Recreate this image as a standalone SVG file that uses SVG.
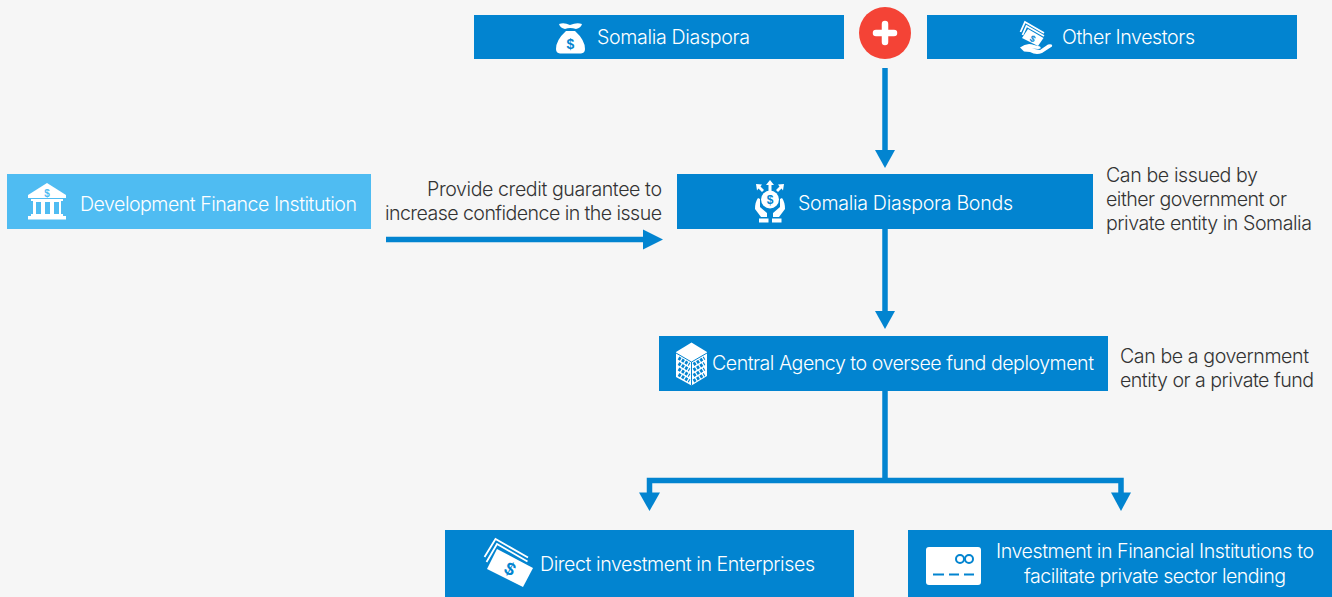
<svg xmlns="http://www.w3.org/2000/svg" width="1332" height="597" viewBox="0 0 1332 597">
<style>
.box{fill:#0284d0}
.lbox{fill:#4fbcf2}
.t{font-family:"Inter","Liberation Sans",sans-serif;font-weight:300;font-size:19.6px}
.w{fill:#fff}
.k{fill:#333}
.c{fill:none;stroke:#0284d0;stroke-width:5.5}
.a{fill:#0284d0}
.i{fill:#fff}
.d{font-family:"Liberation Sans",sans-serif;font-weight:700;fill:#0284d0;text-anchor:middle}
.n{fill:none;stroke:#fff;stroke-width:1.800}
.win{fill:none;stroke:#0284d0;stroke-width:3.200;stroke-dasharray:2.600 1.300}
</style>
<rect width="1332" height="597" fill="#f6f6f6"/>
<g id="connectors">
<path class="c" d="M885 68V152"/><path class="a" d="M875 150H895L885 168Z"/>
<path class="c" d="M386 239.500H648"/><path class="a" d="M643 229.500V249.500L663 239.500Z"/>
<path class="c" d="M885 229V313"/><path class="a" d="M875 311H895L885 329Z"/>
<path class="c" d="M885 391V481"/>
<path class="c" d="M1121 494V480.500H649.500V494"/>
<path class="a" d="M639 492.500H660L649.500 511Z"/><path class="a" d="M1111 492.500H1131L1121 511Z"/>
</g>
<g id="somalia-diaspora">
<rect class="box" x="474" y="15" width="370" height="44"/>
<path class="i" d="M559 24Q564 22 570 25Q577 22 582 24Q581 28 576 29Q570 27 565 29Q560 28 559 24ZM566 31H575Q585 40 585 49Q585 53 581 53.500H560Q556 53 556 49Q556 40 566 31Z"/>
<text class="d" x="570.500" y="49" font-size="14">$</text>
<text class="t w" x="597" y="43.500" textLength="153">Somalia Diaspora</text>
</g>
<g id="plus">
<circle cx="885" cy="33" r="26" fill="#f44336"/>
<path d="M876 33H894M885 24V42" stroke="#fff" stroke-width="6.500" stroke-linecap="round" fill="none"/>
</g>
<g id="other-investors">
<rect class="box" x="927" y="15" width="370" height="44"/>
<path class="n" d="M1020.500 32L1025 22L1044 33"/>
<path class="n" d="M1022.500 35L1026.500 26L1044 36"/>
<path class="i" d="M1028 29L1043.500 38L1038 46L1022 38Z"/>
<text class="d" x="1033" y="42" font-size="9" transform="rotate(28 1033 38)">$</text>
<path class="i" d="M1020 47.500Q1027 42 1034 45L1040 46.500Q1042 49 1038 49L1032 48.500L1040 50L1048 44.500Q1053 43.500 1052 46.500L1042 53Q1036 55.500 1030 52L1024 51.500Z"/>
<text class="t w" x="1062" y="43.500" textLength="133">Other Investors</text>
</g>
<g id="dfi">
<rect class="lbox" x="7" y="174" width="364" height="55"/>
<path class="i" d="M47 183L66 195V198H28V195Z"/>
<path class="i" d="M31 199H63V201H61V214H63V216H66V219.500H28V216H31V214H33V201H31ZM36 202V214H41V202ZM45 202V214H50V202ZM54 202V214H59V202Z" fill-rule="evenodd"/>
<text class="d" x="47" y="197" font-size="10" style="fill:#4fbcf2">$</text>
<text class="t w" x="80" y="210.500" textLength="277">Development Finance Institution</text>
</g>
<g id="guarantee-label">
<text class="t k" x="427" y="195.500" textLength="235">Provide credit guarantee to</text>
<text class="t k" x="385" y="219.500" textLength="277">increase confidence in the issue</text>
</g>
<g id="bonds">
<rect class="box" x="677" y="174" width="416" height="55"/>
<circle class="i" cx="770" cy="199.500" r="9"/>
<text class="d" x="770" y="204" font-size="12">$</text>
<path class="i" d="M770 180L774 185H771.500V191H768.500V185H766Z"/>
<path class="i" d="M756 184L762 184.500L760.500 186.500L764 190L762 192L758.500 188.500L757 190.500Z"/>
<path class="i" d="M784 184L778 184.500L779.500 186.500L776 190L778 192L781.500 188.500L783 190.500Z"/>
<path class="i" d="M758 198L760 199V207L767 213V217H761L755 209Q755 202 758 198Z"/>
<path class="i" d="M782 198L780 199V207L773 213V217H779L785 209Q785 202 782 198Z"/>
<rect class="i" x="759" y="218.500" width="9.500" height="4"/><rect class="i" x="772" y="218.500" width="9.500" height="4"/>
<text class="t w" x="798" y="210" textLength="215">Somalia Diaspora Bonds</text>
</g>
<g id="bonds-note">
<text class="t k" x="1106" y="181.500" textLength="152">Can be issued by</text>
<text class="t k" x="1106" y="205.500" textLength="181">either government or</text>
<text class="t k" x="1106" y="229.500" textLength="206">private entity in Somalia</text>
</g>
<g id="central-agency">
<rect class="box" x="659" y="336" width="449" height="55"/>
<path class="i" d="M691.500 342.500L707 352V376L691.500 385.500L676 377V352Z"/>
<path d="M676 353L691.500 362L707 353M691.500 362V385.500" fill="none" stroke="#0284d0" stroke-width="1"/>
<path class="win" d="M678.500 358L689.500 364.500M678.500 363.500L689.500 370M678.500 369L689.500 375.500M678.500 374.500L689.500 381M693.500 364.500L704.500 358M693.500 370L704.500 363.500M693.500 375.500L704.500 369M693.500 381L704.500 374.500"/>
<text class="t w" x="712" y="370" textLength="382">Central Agency to oversee fund deployment</text>
</g>
<g id="agency-note">
<text class="t k" x="1120" y="363" textLength="189">Can be a government</text>
<text class="t k" x="1120" y="387" textLength="194">entity or a private fund</text>
</g>
<g id="direct-investment">
<rect class="box" x="445" y="530" width="409" height="67"/>
<path class="n" d="M484.500 557L495.500 539L528 557.500"/>
<path class="n" d="M486.500 562L497 544L527.500 561.500"/>
<path class="i" d="M497 549L533 568L523 587L487 569Z"/>
<text class="d" x="510" y="575" font-size="18" transform="rotate(28 510 569)">$</text>
<text class="t w" x="540" y="571" textLength="275">Direct investment in Enterprises</text>
</g>
<g id="financial-institutions">
<rect class="box" x="908" y="530" width="424" height="67"/>
<rect class="i" x="926" y="547" width="55" height="38" rx="3"/>
<circle cx="960" cy="559" r="4" fill="none" stroke="#0284d0" stroke-width="2"/>
<circle cx="969" cy="559" r="4" fill="none" stroke="#0284d0" stroke-width="2"/>
<path d="M933 574.500H944M949 574.500H959M964 574.500H974" stroke="#0284d0" stroke-width="2" fill="none"/>
<text class="t w" x="996" y="558" textLength="318">Investment in Financial Institutions to</text>
<text class="t w" x="1024" y="583" textLength="262">facilitate private sector lending</text>
</g>
</svg>
